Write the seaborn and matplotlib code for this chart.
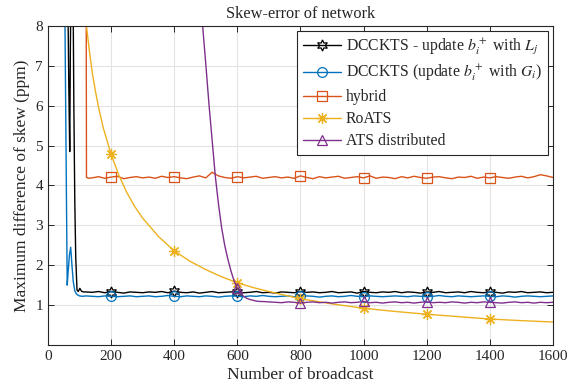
import numpy as np
import matplotlib
matplotlib.use('Agg')
import matplotlib.pyplot as plt
import seaborn as sns

# ---- data ----
marker_x = [200, 400, 600, 800, 1000, 1200, 1400]
plat_x = np.arange(120, 1601, 20)      # sampling grid for the steady part
hyb_plat_x = np.arange(140, 1601, 20)
ats_plat_x = np.arange(700, 1601, 20)

# DCCKTS - update with L_j (black)
black_head_x = [1, 62, 66, 69, 71, 74, 79, 82, 85, 88, 92, 96, 101, 106, 112]
black_head_y = [9.5, 9.5, 6.5, 4.85, 7.5, 9.5, 9.5, 6.0, 3.6, 2.2, 1.38, 1.34, 1.42, 1.35, 1.33]
black_tail = [1.33, 1.32, 1.34, 1.31, 1.34, 1.32, 1.30, 1.33, 1.32, 1.31,
              1.33, 1.32, 1.34, 1.31, 1.35, 1.32, 1.31, 1.33, 1.30, 1.32,
              1.34, 1.31, 1.32, 1.33, 1.33, 1.31, 1.32, 1.34, 1.31, 1.32,
              1.30, 1.33, 1.32, 1.31, 1.34, 1.32, 1.33, 1.31, 1.32, 1.34,
              1.31, 1.32, 1.33, 1.30, 1.34, 1.32, 1.31, 1.33, 1.32, 1.34,
              1.31, 1.33, 1.32, 1.30, 1.33, 1.32, 1.34, 1.31, 1.32, 1.33,
              1.31, 1.34, 1.32, 1.31, 1.33, 1.32, 1.30, 1.33, 1.32, 1.34,
              1.31, 1.32, 1.33, 1.31, 1.32]

# DCCKTS (update with G_i) (blue)
blue_head_x = [1, 50, 54, 58, 61, 64, 68, 72, 76, 80, 85, 90, 95, 100, 110]
blue_head_y = [9.5, 9.5, 8.0, 4.2, 1.5, 1.85, 2.25, 2.45, 2.0, 1.6, 1.36, 1.28, 1.25, 1.23, 1.22]
blue_tail = [1.23, 1.22, 1.21, 1.23, 1.22, 1.21, 1.22, 1.23, 1.21, 1.22,
             1.23, 1.21, 1.22, 1.24, 1.22, 1.21, 1.23, 1.22, 1.21, 1.23,
             1.22, 1.20, 1.22, 1.23, 1.22, 1.21, 1.23, 1.22, 1.24, 1.22,
             1.21, 1.22, 1.23, 1.21, 1.22, 1.23, 1.22, 1.20, 1.22, 1.23,
             1.21, 1.22, 1.24, 1.22, 1.21, 1.23, 1.22, 1.21, 1.22, 1.23,
             1.22, 1.21, 1.23, 1.22, 1.21, 1.22, 1.24, 1.22, 1.21, 1.23,
             1.22, 1.21, 1.22, 1.23, 1.22, 1.21, 1.23, 1.22, 1.20, 1.22,
             1.23, 1.22, 1.21, 1.22, 1.23]

# hybrid (orange)
hyb_head_x = [1, 121, 122, 130]
hyb_head_y = [9.5, 9.5, 4.2, 4.18]
hyb_tail = [4.19, 4.22, 4.18, 4.21, 4.23, 4.17, 4.20, 4.22, 4.19, 4.21,
            4.18, 4.23, 4.20, 4.22, 4.19, 4.17, 4.21, 4.24, 4.19, 4.33,
            4.24, 4.20, 4.18, 4.22, 4.19, 4.21, 4.23, 4.18, 4.20, 4.22,
            4.19, 4.21, 4.18, 4.24, 4.20, 4.17, 4.22, 4.19, 4.21, 4.23,
            4.18, 4.20, 4.22, 4.19, 4.24, 4.18, 4.21, 4.20, 4.17, 4.22,
            4.19, 4.23, 4.20, 4.18, 4.21, 4.22, 4.19, 4.17, 4.21, 4.20,
            4.23, 4.18, 4.21, 4.19, 4.22, 4.20, 4.18, 4.21, 4.23, 4.19,
            4.22, 4.27, 4.24, 4.20]

# RoATS (yellow)
roats_x = [122, 130, 140, 150, 160, 175, 200, 225, 250, 275, 300, 350, 400, 450,
           500, 550, 600, 650, 700, 800, 900, 1000, 1100, 1200, 1300, 1400, 1500, 1600]
roats_y = [8.0, 7.45, 6.85, 6.38, 5.97, 5.45, 4.78, 4.25, 3.82, 3.47, 3.18, 2.72, 2.36, 2.10,
           1.89, 1.71, 1.56, 1.44, 1.34, 1.16, 1.03, 0.92, 0.84, 0.77, 0.71, 0.65, 0.61, 0.575]

# ATS distributed (purple)
ats_head_x = [1, 489, 500, 510, 520, 530, 540, 550, 560, 570, 580, 590, 600,
              610, 620, 630, 640, 650, 660, 670, 680]
ats_head_y = [9.5, 8.1, 7.05, 6.05, 5.15, 4.25, 3.55, 2.95, 2.5, 2.15, 1.85, 1.6, 1.42,
              1.3, 1.22, 1.17, 1.14, 1.12, 1.10, 1.09, 1.09]
ats_tail = [1.08, 1.07, 1.06, 1.08, 1.07, 1.05, 1.07, 1.08, 1.06, 1.07,
            1.05, 1.07, 1.08, 1.06, 1.07, 1.09, 1.06, 1.07, 1.05, 1.07,
            1.08, 1.06, 1.07, 1.05, 1.07, 1.08, 1.06, 1.07, 1.06, 1.08,
            1.07, 1.05, 1.07, 1.06, 1.08, 1.07, 1.06, 1.05, 1.07, 1.08,
            1.06, 1.07, 1.05, 1.07, 1.06, 1.07]

series = [
    (r'DCCKTS - update $b_i^+$ with $L_j$', black_head_x + list(plat_x), black_head_y + black_tail,
     'black', (6, 1, 0), 8),
    (r'DCCKTS (update $b_i^+$ with $G_i$)', blue_head_x + list(plat_x), blue_head_y + blue_tail,
     '#0072BD', 'o', 7),
    ('hybrid', hyb_head_x + list(hyb_plat_x), hyb_head_y + hyb_tail,
     '#D95319', 's', 7),
    ('RoATS', roats_x, roats_y, '#EDB120', (8, 2, 0), 8),
    ('ATS distributed', ats_head_x + list(ats_plat_x), ats_head_y + ats_tail,
     '#7E2F8E', '^', 7),
]

# ---- plot ----
sns.set_style('ticks')
plt.rcParams['font.family'] = ['Liberation Serif', 'DejaVu Serif']
plt.rcParams['mathtext.fontset'] = 'stix'

fig = plt.figure(figsize=(5.71, 3.92), dpi=100)
ax = fig.add_axes([0.084, 0.12, 0.8844, 0.8138])

for label, xs, ys, col, mk, ms in series:
    xs = np.asarray(xs)
    idx = list(np.where(np.isin(xs, marker_x))[0])
    sns.lineplot(x=xs, y=ys, ax=ax, color=col, lw=1.0, label=label,
                 marker=mk, markevery=idx, markersize=ms,
                 markerfacecolor='none', markeredgecolor=col, markeredgewidth=0.9)

ax.set_xlim(0, 1600)
ax.set_ylim(0, 8)
ax.set_xticks(range(0, 1601, 200))
ax.set_yticks(range(1, 9))
ax.grid(True, color='#e3e3e3', lw=0.8)
ax.tick_params(direction='in', top=True, right=True, labelsize=11, length=4,
               width=0.7, color='#262626')
for s in ax.spines.values():
    s.set_color('#262626')
    s.set_linewidth(0.8)

ax.set_title('Skew-error of network', fontsize=11.8, pad=6)
ax.set_xlabel('Number of broadcast', fontsize=12.5, labelpad=3)
ax.set_ylabel('Maximum difference of skew (ppm)', fontsize=12.5, labelpad=4)

leg = ax.legend(loc='upper right', fontsize=11.3, fancybox=False, framealpha=1,
                edgecolor='#262626', borderaxespad=0.3, handlelength=2.4,
                labelspacing=0.38, borderpad=0.4, handletextpad=0.3)
leg.get_frame().set_linewidth(0.8)

fig.savefig('out.png', dpi=100)
